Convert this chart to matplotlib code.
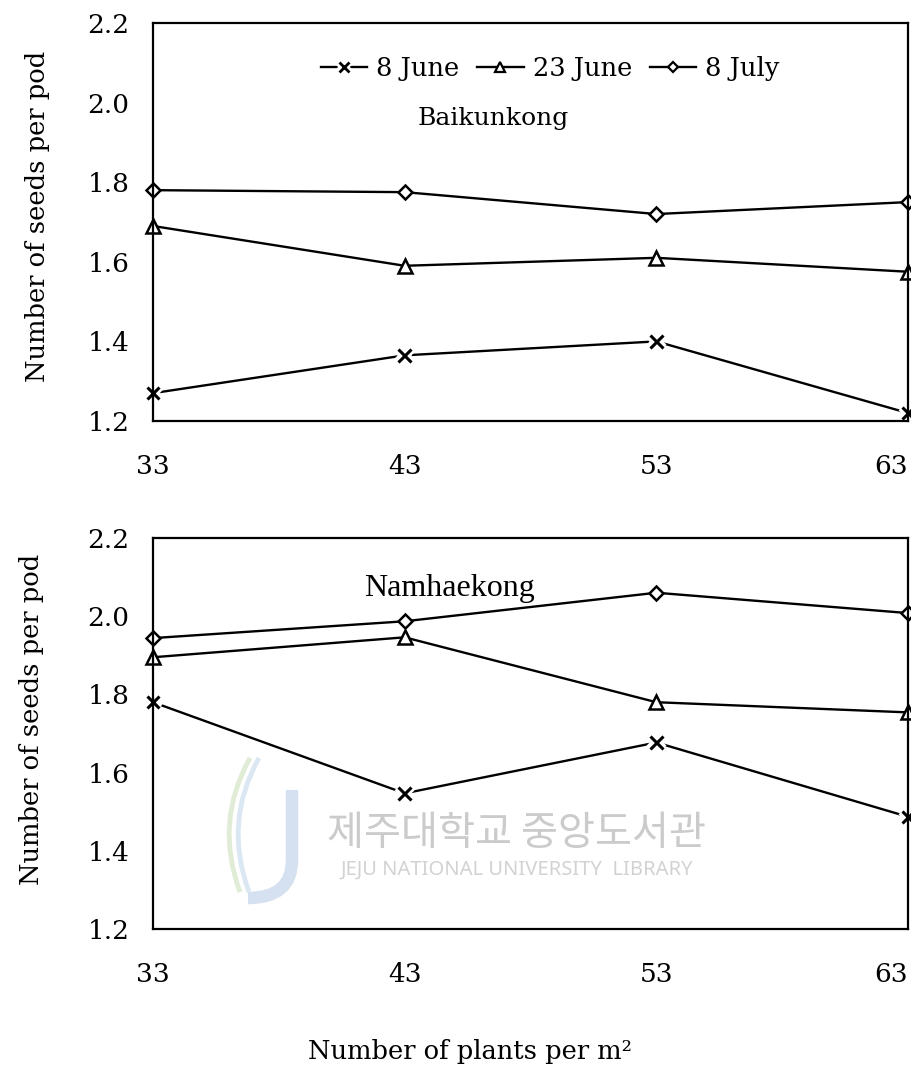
import matplotlib
matplotlib.use("Agg")
import matplotlib.pyplot as plt
import matplotlib.patheffects as pe
from matplotlib.lines import Line2D
from matplotlib.path import Path
from matplotlib.patches import PathPatch

# Plant density (plants per m^2)
density = [33, 43, 53, 63]
density_labels = ["33", "43", "53", "63"]
y_ticks = [1.2, 1.4, 1.6, 1.8, 2.0, 2.2]

# Seeds per pod by sowing date — Baikunkong
baik_jun8 = [1.27, 1.365, 1.40, 1.22]
baik_jun23 = [1.69, 1.59, 1.61, 1.575]
baik_jul8 = [1.78, 1.775, 1.72, 1.75]

# Seeds per pod by sowing date — Namhaekong
nam_jun8 = [1.78, 1.547, 1.677, 1.487]
nam_jun23 = [1.895, 1.946, 1.78, 1.754]
nam_jul8 = [1.944, 1.987, 2.06, 2.008]

sowing_dates = ["8 June", "23 June", "8 July"]

SERIF = ["DejaVu Serif"]
LW = 1.7
W, H = 912, 1088


def draw_series(ax, x, y, marker):
    ax.plot(x, y, color="black", lw=LW, zorder=2)
    if marker == "x":
        ax.plot(x, y, ls="none", marker="x", ms=9, mew=2.2, color="black", zorder=3,
                path_effects=[pe.withStroke(linewidth=7, foreground="white")])
    elif marker == "^":
        ax.plot(x, y, ls="none", marker="^", ms=10, mew=1.8, mfc="white",
                mec="black", zorder=3)
    else:
        ax.plot(x, y, ls="none", marker="D", ms=7.5, mew=1.8, mfc="white",
                mec="black", zorder=3)


def style_axes(ax, ylabel_x, ylabel_y):
    ax.set_xlim(33, 63)
    ax.set_ylim(1.2, 2.2)
    ax.set_xticks(density)
    ax.set_xticklabels(density_labels, fontsize=19, family=SERIF)
    ax.set_yticks(y_ticks)
    ax.set_yticklabels([f"{v:.1f}" for v in y_ticks], fontsize=19, family=SERIF)
    ax.tick_params(axis="both", length=0)
    ax.tick_params(axis="y", pad=17)
    ax.tick_params(axis="x", pad=24)
    ax.get_xticklabels()[-1].set_horizontalalignment("right")
    for sp in ax.spines.values():
        sp.set_linewidth(1.6)
        sp.set_color("black")
        sp.set_zorder(4)
    ax.set_ylabel("Number of seeds per pod", fontsize=18.5, family=SERIF)
    ax.yaxis.set_label_coords(ylabel_x, ylabel_y)
    ax.patch.set_alpha(0)


fig = plt.figure(figsize=(W / 100, H / 100), dpi=100)

# Faint library emblem behind the lower panel
emblem_ax = fig.add_axes([0, 0, 1, 1], zorder=-1)
emblem_ax.set_xlim(0, W)
emblem_ax.set_ylim(H, 0)
emblem_ax.axis("off")
j_path = Path([(292, 790), (292, 860), (292, 898), (248, 898)],
              [Path.MOVETO, Path.LINETO, Path.CURVE3, Path.CURVE3])
emblem_ax.add_patch(PathPatch(j_path, fill=False, lw=9, edgecolor="#d5e1f0",
                              capstyle="butt"))
for dx, col in [(0, "#e0ecd6"), (9, "#dbe8f3")]:
    arc = Path([(250 + dx, 758), (214 + dx, 822), (240 + dx, 892)],
               [Path.MOVETO, Path.CURVE3, Path.CURVE3])
    emblem_ax.add_patch(PathPatch(arc, fill=False, lw=3.5, edgecolor=col))
emblem_ax.text(517, 833, "제주대학교 중앙도서관", fontsize=29,
               family=["Noto Sans CJK KR"], color="#cbcbcb", ha="center",
               va="center")
emblem_ax.text(517, 870, "JEJU NATIONAL UNIVERSITY  LIBRARY",
               fontsize=14.5, family=["Noto Sans"], color="#d2d2d2",
               ha="center", va="center")

ax1 = fig.add_axes([153 / W, 1 - 421 / H, 755 / W, 398 / H])
ax2 = fig.add_axes([153 / W, 1 - 929 / H, 755 / W, 391 / H])

for ax, s1, s2, s3 in [(ax1, baik_jun8, baik_jun23, baik_jul8),
                       (ax2, nam_jun8, nam_jun23, nam_jul8)]:
    draw_series(ax, density, s1, "x")
    draw_series(ax, density, s2, "^")
    draw_series(ax, density, s3, "D")
    for art in ax.lines:
        art.set_clip_on(False)

style_axes(ax1, -0.136, 0.513)
style_axes(ax2, -0.144, 0.535)

ax1.text(0.450, 0.76, "Baikunkong", transform=ax1.transAxes, fontsize=18,
         family=SERIF, ha="center", va="center")
ax2.text(0.393, 0.87, "Namhaekong", transform=ax2.transAxes, fontsize=23,
         family=["Liberation Serif"], ha="center", va="center")

# Legend handles for the three sowing dates
h_x = Line2D([], [], color="black", lw=LW, marker="x", ms=7, mew=2.0,
             path_effects=[pe.withStroke(linewidth=6, foreground="white")])
h_t = Line2D([], [], color="black", lw=LW, marker="^", ms=7, mew=1.6,
             mfc="white", mec="black")
h_d = Line2D([], [], color="black", lw=LW, marker="D", ms=5.5, mew=1.6,
             mfc="white", mec="black")
leg = ax1.legend([h_x, h_t, h_d], sowing_dates, loc="upper center",
                 bbox_to_anchor=(0.526, 0.975), ncol=3, frameon=False,
                 handlelength=1.8, handletextpad=0.35, columnspacing=0.7,
                 prop={"family": SERIF, "size": 18.5})

# Shared x-axis title
fig.text(470 / W, 1 - 1052 / H, "Number of plants per m²", fontsize=18.5,
         family=SERIF, ha="center", va="center")

fig.savefig("out.png", dpi=100)
